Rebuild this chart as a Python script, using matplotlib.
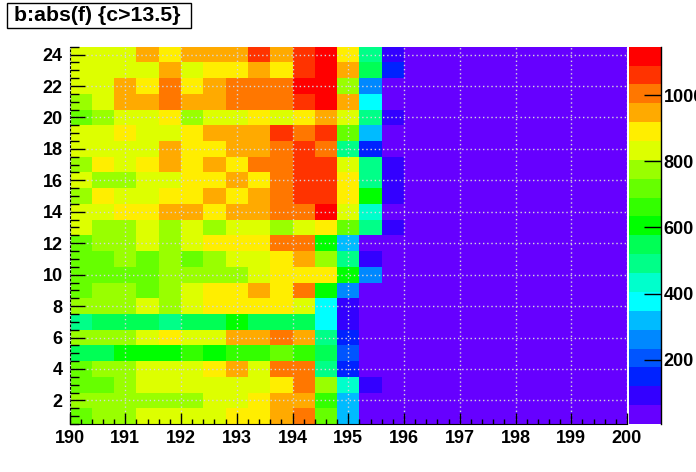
import matplotlib
matplotlib.use('Agg')
import matplotlib.pyplot as plt
import numpy as np
from matplotlib.colors import ListedColormap, Normalize
from matplotlib.patches import Rectangle
from matplotlib.ticker import MultipleLocator

plt.rcParams['font.family'] = ['Liberation Sans', 'DejaVu Sans']
plt.rcParams['font.weight'] = 'bold'

# histogram binning: 25 bins in x (190..200), 24 bins in y (0.5..24.5)
x_edges = np.linspace(190, 200, 26)
y_edges = np.arange(0.5, 25.0, 1.0)

# bin contents, top row (y=24) first
counts = [
    [833, 833, 833, 947, 890, 947, 947, 947, 1061, 947, 1061, 1118, 890, 491, 92, 35, 35, 35, 35, 35, 35, 35, 35, 35, 35],
    [833, 833, 833, 833, 947, 833, 890, 890, 947, 890, 1061, 1118, 947, 548, 149, 35, 35, 35, 35, 35, 35, 35, 35, 35, 35],
    [833, 833, 947, 890, 1004, 890, 947, 1004, 1004, 1004, 1118, 1118, 776, 263, 35, 35, 35, 35, 35, 35, 35, 35, 35, 35, 35],
    [776, 833, 947, 947, 1004, 947, 947, 1004, 1004, 1004, 1061, 1118, 947, 377, 35, 35, 35, 35, 35, 35, 35, 35, 35, 35, 35],
    [719, 776, 833, 833, 890, 776, 833, 833, 890, 833, 890, 947, 833, 491, 92, 35, 35, 35, 35, 35, 35, 35, 35, 35, 35],
    [833, 833, 890, 833, 833, 890, 947, 947, 947, 1061, 1004, 1061, 719, 320, 35, 35, 35, 35, 35, 35, 35, 35, 35, 35, 35],
    [833, 833, 833, 833, 947, 890, 890, 947, 947, 1004, 1061, 1004, 491, 149, 35, 35, 35, 35, 35, 35, 35, 35, 35, 35, 35],
    [776, 890, 833, 890, 947, 890, 947, 890, 1004, 1004, 1061, 1061, 833, 491, 92, 35, 35, 35, 35, 35, 35, 35, 35, 35, 35],
    [833, 776, 776, 833, 833, 890, 890, 947, 890, 1004, 1061, 1061, 890, 491, 92, 35, 35, 35, 35, 35, 35, 35, 35, 35, 35],
    [776, 890, 833, 833, 890, 890, 947, 890, 947, 1004, 1061, 1061, 890, 605, 92, 35, 35, 35, 35, 35, 35, 35, 35, 35, 35],
    [833, 833, 890, 890, 947, 947, 890, 947, 947, 1004, 1004, 1118, 833, 434, 35, 35, 35, 35, 35, 35, 35, 35, 35, 35, 35],
    [833, 776, 776, 833, 776, 833, 776, 833, 833, 776, 833, 890, 719, 491, 92, 35, 35, 35, 35, 35, 35, 35, 35, 35, 35],
    [719, 776, 776, 833, 776, 833, 890, 890, 890, 1004, 1004, 605, 320, 35, 35, 35, 35, 35, 35, 35, 35, 35, 35, 35, 35],
    [719, 719, 776, 719, 776, 719, 776, 833, 833, 890, 947, 776, 491, 92, 35, 35, 35, 35, 35, 35, 35, 35, 35, 35, 35],
    [719, 719, 719, 719, 776, 776, 776, 776, 833, 890, 890, 890, 605, 263, 35, 35, 35, 35, 35, 35, 35, 35, 35, 35, 35],
    [719, 776, 776, 719, 776, 833, 890, 890, 947, 890, 1004, 605, 263, 35, 35, 35, 35, 35, 35, 35, 35, 35, 35, 35, 35],
    [776, 776, 776, 833, 776, 833, 890, 890, 890, 890, 833, 377, 92, 35, 35, 35, 35, 35, 35, 35, 35, 35, 35, 35, 35],
    [491, 548, 548, 548, 491, 548, 548, 605, 548, 548, 548, 377, 92, 35, 35, 35, 35, 35, 35, 35, 35, 35, 35, 35, 35],
    [776, 776, 776, 833, 890, 833, 833, 947, 947, 1004, 947, 491, 149, 35, 35, 35, 35, 35, 35, 35, 35, 35, 35, 35, 35],
    [548, 548, 605, 605, 605, 662, 605, 662, 662, 719, 662, 548, 206, 35, 35, 35, 35, 35, 35, 35, 35, 35, 35, 35, 35],
    [719, 776, 776, 833, 833, 833, 890, 947, 833, 1004, 1004, 491, 149, 35, 35, 35, 35, 35, 35, 35, 35, 35, 35, 35, 35],
    [719, 719, 776, 833, 833, 833, 833, 833, 833, 890, 1004, 776, 434, 92, 35, 35, 35, 35, 35, 35, 35, 35, 35, 35, 35],
    [776, 776, 776, 776, 776, 776, 833, 833, 890, 947, 947, 662, 320, 35, 35, 35, 35, 35, 35, 35, 35, 35, 35, 35, 35],
    [719, 776, 776, 833, 833, 833, 833, 890, 890, 947, 1004, 719, 320, 35, 35, 35, 35, 35, 35, 35, 35, 35, 35, 35, 35],
]
z = np.flipud(np.array(counts, dtype=float))

z_min, z_max = 6, 1146
z_ticks = [200, 400, 600, 800, 1000]

# ROOT-like rainbow palette, 20 contour levels
palette = ['#6600ff', '#3300ff', '#0022ff', '#0055ff', '#0088ff',
           '#00bbff', '#00ffff', '#00ffcc', '#00ff88', '#00ff55',
           '#00ff00', '#33ff00', '#66ff00', '#99ff00', '#ddff00',
           '#ffee00', '#ffaa00', '#ff7700', '#ff3300', '#ff0000']
cmap = ListedColormap(palette)

W, H = 696, 472
fig = plt.figure(figsize=(W / 100, H / 100), dpi=100)
ax = fig.add_axes([69.5 / W, 1 - 424 / H, (627 - 69.5) / W, (424 - 46.7) / H])
cax = fig.add_axes([629 / W, 1 - 424 / H, 32 / W, (424 - 46.7) / H])

mesh = ax.pcolormesh(x_edges, y_edges, z, cmap=cmap,
                     norm=Normalize(vmin=z_min, vmax=z_max))
ax.set_xlim(190, 200)
ax.set_ylim(0.5, 24.5)

ax.xaxis.set_major_locator(MultipleLocator(1))
ax.xaxis.set_minor_locator(MultipleLocator(0.2))
ax.yaxis.set_major_locator(MultipleLocator(2))
ax.yaxis.set_minor_locator(MultipleLocator(0.5))
ax.tick_params(axis='x', which='major', direction='in', length=8, width=1,
               labelsize=13, pad=4)
ax.tick_params(axis='x', which='minor', direction='in', length=3.6, width=1)
ax.tick_params(axis='y', which='major', direction='in', length=11, width=1,
               labelsize=13, pad=5)
ax.tick_params(axis='y', which='minor', direction='in', length=6.5, width=1)
for lab in ax.get_xticklabels() + ax.get_yticklabels():
    lab.set_fontweight('bold')

ax.grid(True, which='major', color='#d4d4dc', linestyle=(0, (1, 2)), linewidth=1)
ax.set_axisbelow(False)
ax.spines['top'].set_visible(False)
ax.spines['right'].set_visible(False)

cb = fig.colorbar(mesh, cax=cax, ticks=z_ticks)
cb.outline.set_visible(False)
cax.tick_params(direction='in', length=12, width=1, labelsize=13, pad=2)
cax.minorticks_off()
for lab in cax.get_yticklabels():
    lab.set_fontweight('bold')
cax.plot([1, 1], [0, 1], transform=cax.transAxes, color='black',
         linewidth=1, clip_on=False)

# title box, ROOT style
fig.patches.append(Rectangle((7 / W, 1 - 28 / H), 184 / W, 25 / H,
                             transform=fig.transFigure, facecolor='white',
                             edgecolor='black', linewidth=1))
fig.text(97 / W, 1 - 15.5 / H, 'b:abs(f) {c>13.5}', ha='center', va='center',
         fontsize=15.3, fontweight='bold')

fig.savefig('out.png', dpi=100)
